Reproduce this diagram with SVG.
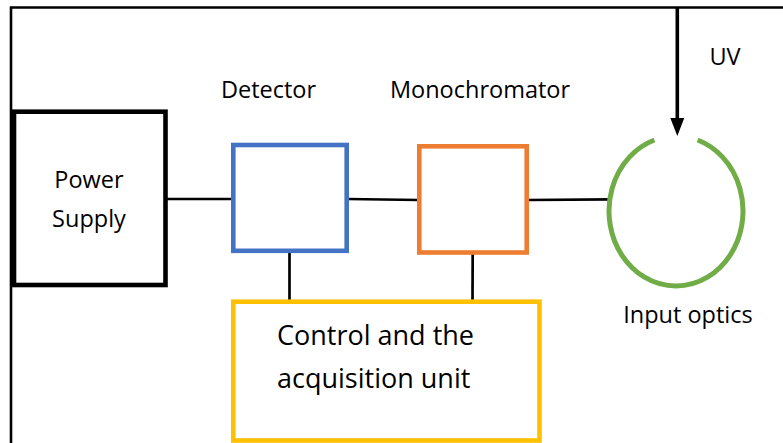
<svg xmlns="http://www.w3.org/2000/svg" width="783" height="443" viewBox="0 0 783 443">
<style>
text{font-family:"Open Sans","Noto Sans","Liberation Sans",sans-serif;font-size:23.5px;fill:#000}
.c{text-anchor:middle}
.big{font-size:27px}
.box{fill:#fff;stroke-width:4.6}
.wire{stroke:#000;stroke-width:2.7;fill:none}
</style>
<defs>
<marker id="ah" markerWidth="18" markerHeight="14" refX="0" refY="7" orient="auto" markerUnits="userSpaceOnUse" viewBox="0 0 18 14">
<path d="M0,0 L18,7 L0,14 Z" fill="#000"/>
</marker>
</defs>
<rect width="783" height="443" fill="#fff"/>
<g id="frame">
<path d="M11,443 V7.5 H783" fill="none" stroke="#000" stroke-width="2.6"/>
</g>
<g id="connectors">
<line class="wire" x1="166" y1="199" x2="233" y2="199"/>
<line class="wire" x1="347" y1="199" x2="419" y2="200"/>
<line class="wire" x1="527" y1="200" x2="612" y2="199.3"/>
<line class="wire" x1="289.5" y1="251" x2="289.5" y2="301.5"/>
<line class="wire" x1="472.7" y1="253" x2="472.5" y2="301.5"/>
<line x1="677.3" y1="8" x2="677.3" y2="118" stroke="#000" stroke-width="3.6" marker-end="url(#ah)"/>
</g>
<g id="power-supply">
<rect class="box" x="14" y="111.7" width="151.5" height="173.3" stroke="#000"/>
<text class="c" x="89" y="188.3">Power</text>
<text class="c" x="89" y="226.7">Supply</text>
</g>
<g id="detector">
<rect class="box" x="233.3" y="145" width="113.4" height="105.8" stroke="#4472C4"/>
<text class="c" x="268.5" y="98.3">Detector</text>
</g>
<g id="monochromator">
<rect class="box" x="419.3" y="146.3" width="107.4" height="106.2" stroke="#ED7D31"/>
<text class="c" x="480" y="98.3">Monochromator</text>
</g>
<g id="control-unit">
<rect class="box" x="233.3" y="301.7" width="306.2" height="138.8" stroke="#FFC000"/>
<text class="big" x="277" y="345">Control and the</text>
<text class="big" x="277" y="388.3">acquisition unit</text>
</g>
<g id="input-optics">
<path d="M697.6,140 A67,75 0 1 1 654.4,140" fill="none" stroke="#70AD47" stroke-width="5"/>
<text class="c" x="688" y="322.7">Input optics</text>
</g>
<g id="uv-label">
<text class="c" x="725" y="65">UV</text>
</g>
</svg>
